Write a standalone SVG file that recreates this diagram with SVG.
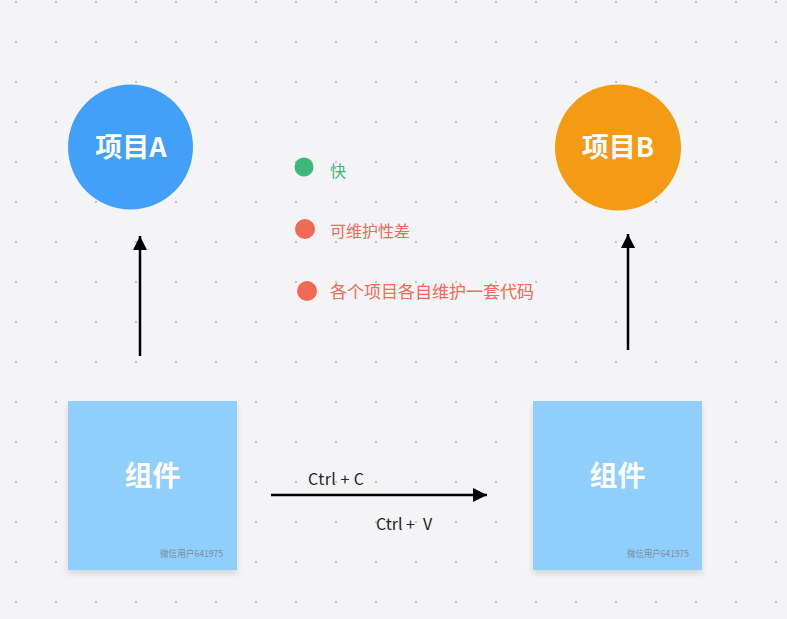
<svg xmlns="http://www.w3.org/2000/svg" width="787" height="619" viewBox="0 0 787 619">
<defs>
<pattern id="dots" x="0" y="0" width="40" height="40" patternUnits="userSpaceOnUse">
<rect x="15" y="1" width="2" height="2" fill="#c4c4c8"/>
</pattern>
<marker id="ah" viewBox="0 0 10 10" refX="10" refY="5" markerWidth="5.6" markerHeight="5.6" orient="auto" markerUnits="strokeWidth">
<path d="M0,0 L10,5 L0,10 z" fill="#000"/>
</marker>
<filter id="sh" x="-10%" y="-10%" width="120%" height="130%">
<feDropShadow dx="0" dy="4" stdDeviation="3" flood-color="#000" flood-opacity="0.12"/>
</filter>
<style>
.t{font-family:"Noto Sans CJK SC","Noto Sans",sans-serif}
.big{font-weight:bold;fill:#fff;text-anchor:middle}
.wm{font-size:9.5px;fill:#7a8ea0}
.leg{font-size:16px}
.lbl{font-size:16px;fill:#222}
.conn{stroke:#000;stroke-width:2.5;fill:none}
</style>
</defs>
<rect width="787" height="619" fill="#f4f4f6"/>
<rect width="787" height="619" fill="url(#dots)"/>
<g id="projectA">
<circle cx="130.5" cy="147" r="62.5" fill="#43a0f8"/>
<text class="t big" x="131" y="157" font-size="27">项目A</text>
</g>
<g id="projectB">
<circle cx="618" cy="147.5" r="63" fill="#f59a13"/>
<text class="t big" x="618" y="157" font-size="27">项目B</text>
</g>
<g id="componentA">
<rect x="68" y="401" width="169" height="169" fill="#90cefb" filter="url(#sh)"/>
<text class="t big" x="152.5" y="486" font-size="28">组件</text>
<text class="t wm" x="160" y="557" textLength="63" lengthAdjust="spacingAndGlyphs">微信用户641975</text>
</g>
<g id="componentB">
<rect x="533" y="401" width="169" height="169" fill="#90cefb" filter="url(#sh)"/>
<text class="t big" x="617.5" y="486" font-size="28">组件</text>
<text class="t wm" x="627" y="557" textLength="62" lengthAdjust="spacingAndGlyphs">微信用户641975</text>
</g>
<g id="legend">
<circle cx="304" cy="167" r="9.5" fill="#3db67a"/>
<text class="t leg" x="330" y="177" fill="#3db67a">快</text>
<circle cx="305" cy="229" r="10" fill="#f06a56"/>
<text class="t leg" x="330" y="237" fill="#f06a56">可维护性差</text>
<circle cx="307" cy="291" r="10" fill="#f06a56"/>
<text class="t" x="330" y="298" font-size="17" fill="#f06a56">各个项目各自维护一套代码</text>
</g>
<g id="connectors">
<line class="conn" x1="140" y1="356" x2="140" y2="236" marker-end="url(#ah)"/>
<line class="conn" x1="628" y1="350" x2="628" y2="234" marker-end="url(#ah)"/>
<line class="conn" x1="271" y1="495" x2="487" y2="495" marker-end="url(#ah)"/>
<text class="t lbl" x="308" y="485" textLength="56">Ctrl + C</text>
<text class="t lbl" x="376" y="530">Ctrl +<tspan dx="8">V</tspan></text>
</g>
</svg>
